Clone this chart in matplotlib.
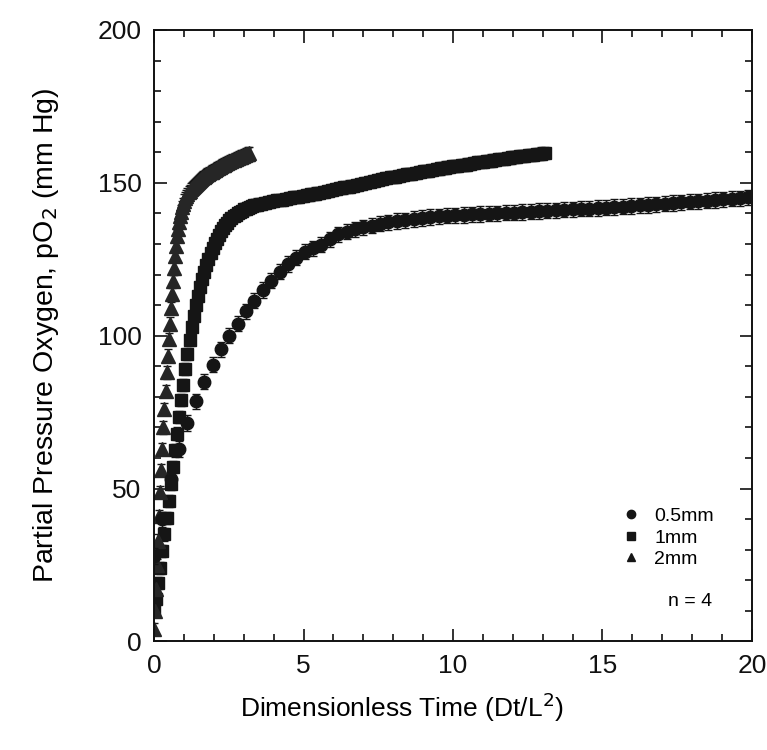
import numpy as np
import matplotlib
matplotlib.use("Agg")
from matplotlib import pyplot as plt
from matplotlib.lines import Line2D
from matplotlib.ticker import MultipleLocator

plt.rcParams['font.family'] = ['Liberation Sans', 'DejaVu Sans']

# 0.5 mm slab, sampled every 0.28 Dt/L^2
step_05 = 0.28
p_05 = [28, 40, 53, 63, 71.5, 78.5, 85, 90.5, 95.5, 100, 104, 108, 111.5, 115,
        118, 121, 123.5, 125.5, 127.5, 128.6, 129.8, 131.5, 133.2, 134, 134.8,
        135.5, 136, 136.6, 137.1, 137.5, 137.8, 138.2, 138.5, 138.8, 139.1,
        139.3, 139.4, 139.5, 139.7, 139.8, 139.9, 140, 140.2, 140.3, 140.5,
        140.6, 140.8, 140.9, 141, 141.2, 141.3, 141.5, 141.6, 141.8, 141.9,
        142.1, 142.2, 142.4, 142.6, 142.8, 143, 143.2, 143.4, 143.6, 143.8,
        144, 144.2, 144.4, 144.6, 144.8, 145, 145.3]
err_05 = 2.5

# 1 mm slab: fine sampling for the steep start, coarser after
p_1_early = [10, 14, 19, 24, 29.5, 35, 40.5, 46, 51.5, 57, 62.5, 68, 73.5, 79,
             84, 89, 94, 98.5, 103, 106.5, 110, 113, 116, 118.5, 121, 123, 125,
             127, 128.7, 130.3, 131.7, 133, 134.2, 135.2, 136.2, 137, 137.8,
             138.5, 139.1, 139.6, 140.1, 140.5, 140.9, 141.3, 141.6, 141.9,
             142.2, 142.5, 142.7, 142.9]
p_1_late = [143.1, 143.4, 143.7, 144.0, 144.3, 144.5, 144.8, 145.0, 145.3, 145.5,
            145.7, 146.0, 146.2, 146.5, 146.7, 147.0, 147.3, 147.6, 147.9, 148.2,
            148.5, 148.8, 149.1, 149.4, 149.7, 150.0, 150.3, 150.6, 150.9, 151.2,
            151.5, 151.8, 152.0, 152.3, 152.5, 152.8, 153.0, 153.3, 153.5, 153.8,
            154.0, 154.3, 154.5, 154.7, 155.0, 155.2, 155.4, 155.6, 155.8, 156.0,
            156.2, 156.5, 156.7, 156.9, 157.1, 157.3, 157.5, 157.7, 157.9, 158.1,
            158.3, 158.5, 158.7, 158.9, 159.0, 159.2, 159.4, 159.6, 159.8]
err_1 = 2.0

# 2 mm slab, sampled every 0.035 Dt/L^2
step_2 = 0.035
p_2 = [4, 10, 17, 25, 33, 41, 49, 56, 63, 70, 76, 82, 88, 93.5, 99, 104, 109,
       113.5, 118, 122, 126, 129.5, 132.5, 135, 137.2, 139, 140.6, 142, 143.2,
       144.2, 145, 145.7, 146.3, 146.9, 147.4, 147.9, 148.3, 148.7, 149.1,
       149.4, 149.7, 150.0, 150.3, 150.6, 150.9, 151.2, 151.5, 151.8, 152.0,
       152.3, 152.5, 152.8, 153.0, 153.3, 153.5, 153.7, 153.9, 154.1, 154.3,
       154.5, 154.7, 154.9, 155.1, 155.3, 155.5, 155.7, 155.8, 156.0, 156.2,
       156.4, 156.5, 156.7, 156.9, 157.0, 157.2, 157.4, 157.5, 157.7, 157.8,
       158.0, 158.1, 158.3, 158.4, 158.6, 158.7, 158.9, 159.0, 159.2, 159.3,
       159.5, 159.6, 159.8]
err_2 = 2.0

labels = ['0.5mm', '1mm', '2mm']

t_05 = step_05 * np.arange(len(p_05))
t_1 = np.concatenate([0.07 * np.arange(len(p_1_early)),
                      3.57 + 0.14 * np.arange(len(p_1_late))])
p_1 = p_1_early + p_1_late
t_2 = step_2 * np.arange(len(p_2))

ink = '#151515'

fig = plt.figure(figsize=(7.67, 7.5), dpi=100)
ax = fig.add_axes([0.2008, 0.1447, 0.7796, 0.8153])

ax.errorbar(t_05, p_05, yerr=err_05, fmt='o', ms=9, color=ink, mec=ink,
            ecolor=ink, elinewidth=1, capsize=3, capthick=1, zorder=3)
ax.errorbar(t_1, p_1, yerr=err_1, fmt='s', ms=9, color=ink, mec=ink,
            ecolor=ink, elinewidth=1, capsize=3, capthick=1, zorder=2)
ax.errorbar(t_2, p_2, yerr=err_2, fmt='^', ms=10, color='#262626', mec='#262626',
            ecolor=ink, elinewidth=1, capsize=3, capthick=1, zorder=2)

ax.set_xlim(0, 20)
ax.set_ylim(0, 200)
ax.xaxis.set_major_locator(MultipleLocator(5))
ax.xaxis.set_minor_locator(MultipleLocator(1))
ax.yaxis.set_major_locator(MultipleLocator(50))
ax.yaxis.set_minor_locator(MultipleLocator(10))
ax.tick_params(which='both', direction='in', top=True, right=True, width=1.2,
               labelsize=19, colors='#111111')
ax.tick_params(which='major', length=9, pad=9)
ax.tick_params(which='minor', length=5)
for s in ax.spines.values():
    s.set_linewidth(1.4)
    s.set_color('#111111')

ax.set_xlabel('Dimensionless Time (Dt/L$^2$)', fontsize=19)
ax.xaxis.set_label_coords(0.415, -0.08)
ax.set_ylabel('Partial Pressure Oxygen, pO$_2$ (mm Hg)', fontsize=20.5, labelpad=26)

handles = [Line2D([], [], ls='none', marker=m, ms=6, color=ink)
           for m in ['o', 's', '^']]
ax.legend(handles, labels, loc='upper left', bbox_to_anchor=(0.768, 0.232),
          frameon=False, fontsize=14, handlelength=1.0, handletextpad=0.7,
          labelspacing=0.2, borderaxespad=0)
ax.text(0.897, 0.065, 'n = 4', transform=ax.transAxes, fontsize=14,
        ha='center', va='center')

fig.savefig('out.png', dpi=100)
